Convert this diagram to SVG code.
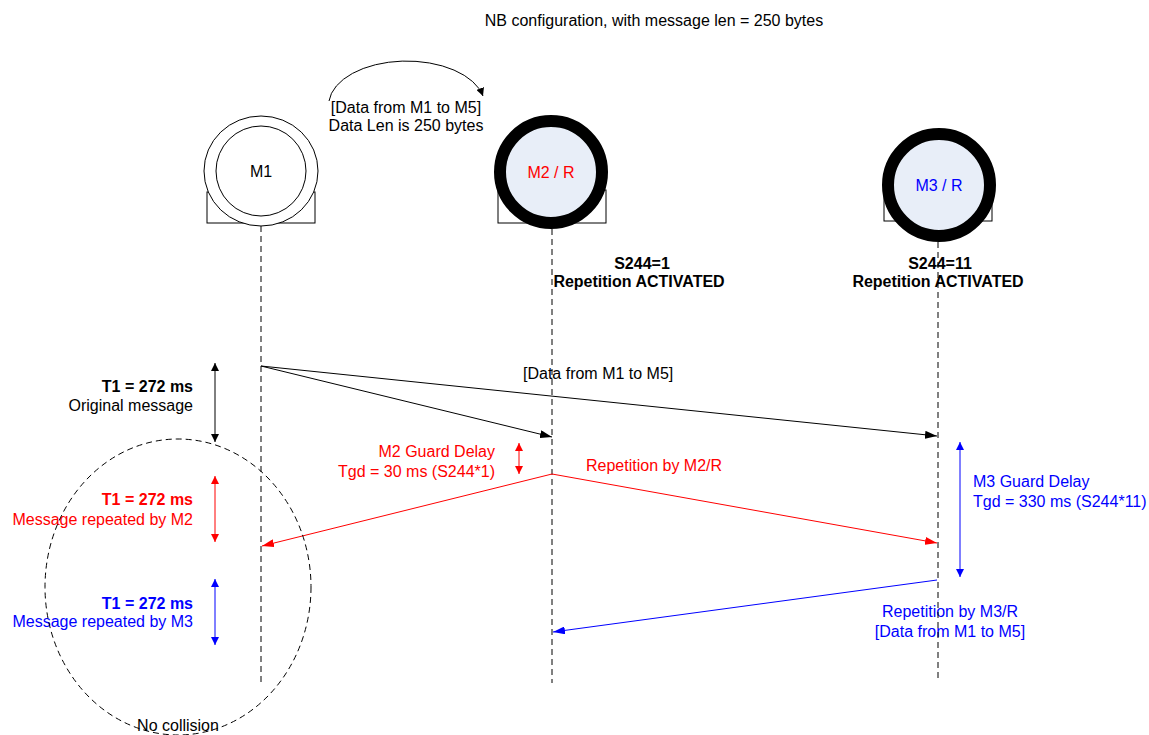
<svg xmlns="http://www.w3.org/2000/svg" width="1149" height="735" viewBox="0 0 1149 735">
<style>
text{font-family:"Liberation Sans",Arial,sans-serif;font-size:16px}
.b{font-weight:bold}
.r{fill:#ff0000}.bl{fill:#0000ff}
.life{stroke:#000;stroke-width:1;stroke-dasharray:6 4;fill:none}
.rect{fill:#fff;stroke:#000;stroke-width:1}
</style>
<defs>
<marker id="ak" viewBox="0 0 12 8" refX="12" refY="4" markerWidth="12" markerHeight="8" markerUnits="userSpaceOnUse" orient="auto-start-reverse"><path d="M0,0L12,4L0,8z" fill="#000"/></marker>
<marker id="ar" viewBox="0 0 12 8" refX="12" refY="4" markerWidth="12" markerHeight="8" markerUnits="userSpaceOnUse" orient="auto-start-reverse"><path d="M0,0L12,4L0,8z" fill="#ff0000"/></marker>
<marker id="ab" viewBox="0 0 12 8" refX="12" refY="4" markerWidth="12" markerHeight="8" markerUnits="userSpaceOnUse" orient="auto-start-reverse"><path d="M0,0L12,4L0,8z" fill="#0000ff"/></marker>
<marker id="sk" viewBox="0 0 8 8" refX="8" refY="4" markerWidth="8" markerHeight="8" markerUnits="userSpaceOnUse" orient="auto-start-reverse"><path d="M0,0L8,4L0,8z" fill="#000"/></marker>
<marker id="sr" viewBox="0 0 8 8" refX="8" refY="4" markerWidth="8" markerHeight="8" markerUnits="userSpaceOnUse" orient="auto-start-reverse"><path d="M0,0L8,4L0,8z" fill="#ff0000"/></marker>
<marker id="sb" viewBox="0 0 8 8" refX="8" refY="4" markerWidth="8" markerHeight="8" markerUnits="userSpaceOnUse" orient="auto-start-reverse"><path d="M0,0L8,4L0,8z" fill="#0000ff"/></marker>
</defs>
<rect width="1149" height="735" fill="#fff"/>
<text x="654" y="26" text-anchor="middle">NB configuration, with message len = 250 bytes</text>

<g id="M1">
<rect class="rect" x="207" y="192" width="108" height="31"/>
<ellipse cx="261" cy="171" rx="57" ry="55" fill="#fff" stroke="#000"/>
<circle cx="261" cy="171" r="45" fill="#fff" stroke="#000"/>
<text x="261" y="177" text-anchor="middle">M1</text>
</g>
<g id="M2">
<rect class="rect" x="498" y="190" width="108" height="33"/>
<circle cx="551" cy="172" r="51" fill="#e8eef8" stroke="#000" stroke-width="12"/>
<text x="551" y="178" text-anchor="middle" class="r">M2 / R</text>
</g>
<g id="M3">
<rect class="rect" x="884" y="190" width="108" height="31"/>
<circle cx="939" cy="185" r="51" fill="#e8eef8" stroke="#000" stroke-width="12"/>
<text x="939" y="191" text-anchor="middle" class="bl">M3 / R</text>
</g>

<g id="notes">
<text x="406" y="113" text-anchor="middle">[Data from M1 to M5]</text>
<text x="406" y="131" text-anchor="middle">Data Len is 250 bytes</text>
<text x="642" y="269" text-anchor="middle" class="b">S244=1</text>
<text x="639" y="287" text-anchor="middle" class="b">Repetition ACTIVATED</text>
<text x="940" y="269" text-anchor="middle" class="b">S244=11</text>
<text x="938" y="287" text-anchor="middle" class="b">Repetition ACTIVATED</text>
<text x="193" y="392" text-anchor="end" class="b">T1 = 272 ms</text>
<text x="193" y="411" text-anchor="end">Original message</text>
<text x="193" y="505" text-anchor="end" class="b r">T1 = 272 ms</text>
<text x="193" y="525" text-anchor="end" class="r">Message repeated by M2</text>
<text x="193" y="609" text-anchor="end" class="b bl">T1 = 272 ms</text>
<text x="193" y="627" text-anchor="end" class="bl">Message repeated by M3</text>
<text x="495" y="457" text-anchor="end" class="r">M2 Guard Delay</text>
<text x="495" y="477" text-anchor="end" class="r">Tgd = 30 ms (S244*1)</text>
<text x="586" y="471" class="r">Repetition by M2/R</text>
<text x="523" y="379">[Data from M1 to M5]</text>
<text x="973" y="487" class="bl">M3 Guard Delay</text>
<text x="973" y="507" class="bl">Tgd = 330 ms (S244*11)</text>
<text x="950" y="617" text-anchor="middle" class="bl">Repetition by M3/R</text>
<text x="950" y="637" text-anchor="middle" class="bl">[Data from M1 to M5]</text>
<text x="178" y="731" text-anchor="middle">No collision</text>
</g>

<g id="connectors">
<line class="life" x1="261" y1="226" x2="261" y2="683"/>
<line class="life" x1="552" y1="229" x2="552" y2="683"/>
<line class="life" x1="938" y1="242" x2="938" y2="680"/>
<path d="M329,101 A78,44 0 0 1 483,96" fill="none" stroke="#000" marker-end="url(#sk)"/>
<line x1="261" y1="366" x2="552" y2="437" stroke="#000" marker-end="url(#ak)"/>
<line x1="261" y1="366" x2="937" y2="436" stroke="#000" marker-end="url(#ak)"/>
<line x1="215" y1="363" x2="215" y2="442" stroke="#000" marker-start="url(#sk)" marker-end="url(#sk)"/>
<line x1="519" y1="443" x2="519" y2="474" stroke="#ff0000" marker-start="url(#sr)" marker-end="url(#sr)"/>
<line x1="552" y1="474" x2="262" y2="546" stroke="#ff0000" marker-end="url(#ar)"/>
<line x1="552" y1="474" x2="937" y2="543" stroke="#ff0000" marker-end="url(#ar)"/>
<line x1="215" y1="476" x2="215" y2="542" stroke="#ff0000" marker-start="url(#sr)" marker-end="url(#sr)"/>
<line x1="960" y1="442" x2="960" y2="577" stroke="#0000ff" marker-start="url(#sb)" marker-end="url(#sb)"/>
<line x1="937" y1="580" x2="553" y2="632" stroke="#0000ff" marker-end="url(#ab)"/>
<line x1="215" y1="579" x2="215" y2="645" stroke="#0000ff" marker-start="url(#sb)" marker-end="url(#sb)"/>
<ellipse cx="178" cy="587" rx="133" ry="148" fill="none" stroke="#000" stroke-dasharray="6 4"/>
</g>
</svg>
